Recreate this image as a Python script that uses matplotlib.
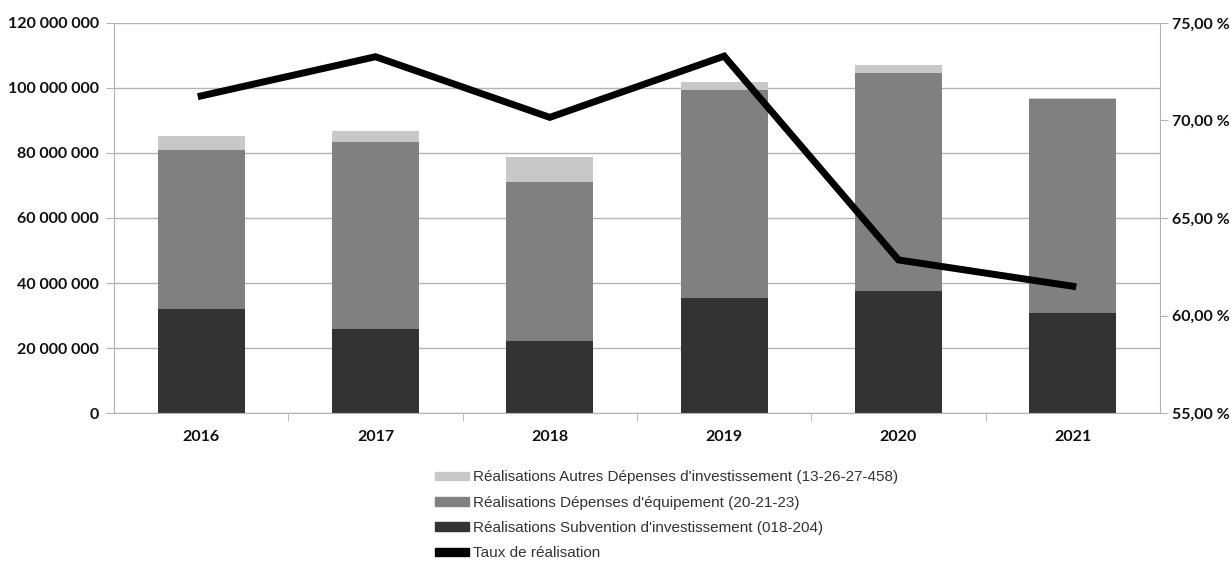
import numpy as np
import matplotlib.pyplot as plt
from matplotlib.patches import Patch
from matplotlib.ticker import FuncFormatter, FixedLocator

years = ["2016", "2017", "2018", "2019", "2020", "2021"]
# montants en millions d'euros
subvention = [31.9, 26.0, 22.3, 35.3, 37.6, 30.9]
equipement = [49.1, 57.3, 48.9, 64.2, 66.9, 65.7]
autres = [4.2, 3.5, 7.6, 2.4, 2.5, 0.3]
taux = [71.26, 73.27, 70.16, 73.30, 62.85, 61.50]

labels = ["Réalisations Autres Dépenses d'investissement (13-26-27-458)",
          "Réalisations Dépenses d'équipement (20-21-23)",
          "Réalisations Subvention d'investissement (018-204)",
          "Taux de réalisation"]

c_light = "#c8c8c8"
c_mid = "#808080"
c_dark = "#333333"
c_axis = "#b3b3b3"

fig = plt.figure(figsize=(12.31, 5.62), dpi=100)
ax = fig.add_axes([0.0926, 0.2651, 0.8497, 0.6940])

x = np.arange(len(years))
sub = np.array(subvention) * 1e6
equ = np.array(equipement) * 1e6
aut = np.array(autres) * 1e6

ax.bar(x, sub, width=0.5, color=c_dark, zorder=2)
ax.bar(x, equ, width=0.5, bottom=sub, color=c_mid, zorder=2)
ax.bar(x, aut, width=0.5, bottom=sub + equ, color=c_light, zorder=2)

ax.set_xlim(-0.5, len(years) - 0.5)
ax.set_ylim(0, 120e6)
ax.set_yticks(np.arange(0, 120e6 + 1, 20e6))
ax.yaxis.set_major_formatter(FuncFormatter(lambda v, p: "{:,.0f}".format(v).replace(",", " ")))
ax.grid(axis="y", color=c_axis, lw=1, zorder=0)

ax.set_xticks(x)
ax.set_xticklabels(years)
ax.xaxis.set_minor_locator(FixedLocator(np.arange(0.5, len(years) - 1, 1.0)))
ax.tick_params(axis="x", which="major", length=0, pad=12)
ax.tick_params(axis="x", which="minor", length=6, color=c_axis, direction="out")
ax.tick_params(axis="y", length=6, color=c_axis, pad=5)

for s in ["top", "right"]:
    ax.spines[s].set_visible(False)
for s in ["left", "bottom"]:
    ax.spines[s].set_color(c_axis)

ax2 = ax.twinx()
ax2.plot(x, taux, color="black", lw=5, zorder=5, solid_joinstyle="miter")
ax2.set_ylim(55, 75)
ax2.set_yticks([55, 60, 65, 70, 75])
ax2.yaxis.set_major_formatter(FuncFormatter(lambda v, p: ("%.2f %%" % v).replace(".", ",")))
ax2.tick_params(axis="y", length=6, color=c_axis, pad=3)
for s in ["top", "left", "bottom"]:
    ax2.spines[s].set_visible(False)
ax2.spines["right"].set_color(c_axis)

for lab in ax.get_xticklabels() + ax.get_yticklabels() + ax2.get_yticklabels():
    lab.set_fontfamily("Lato")
    lab.set_fontweight("bold")
    lab.set_fontsize(11.5)
    lab.set_color("#111111")

handles = [Patch(color=c_light), Patch(color=c_mid), Patch(color=c_dark), Patch(color="black")]
fig.legend(handles, labels, loc="upper left", bbox_to_anchor=(0.3534, 0.163),
           frameon=False, prop={"family": "Liberation Sans", "size": 11},
           handlelength=2.2, handleheight=0.5, handletextpad=0.3,
           labelspacing=0.74, borderaxespad=0, borderpad=0, labelcolor="#333333")

fig.savefig("out.png", dpi=100)
